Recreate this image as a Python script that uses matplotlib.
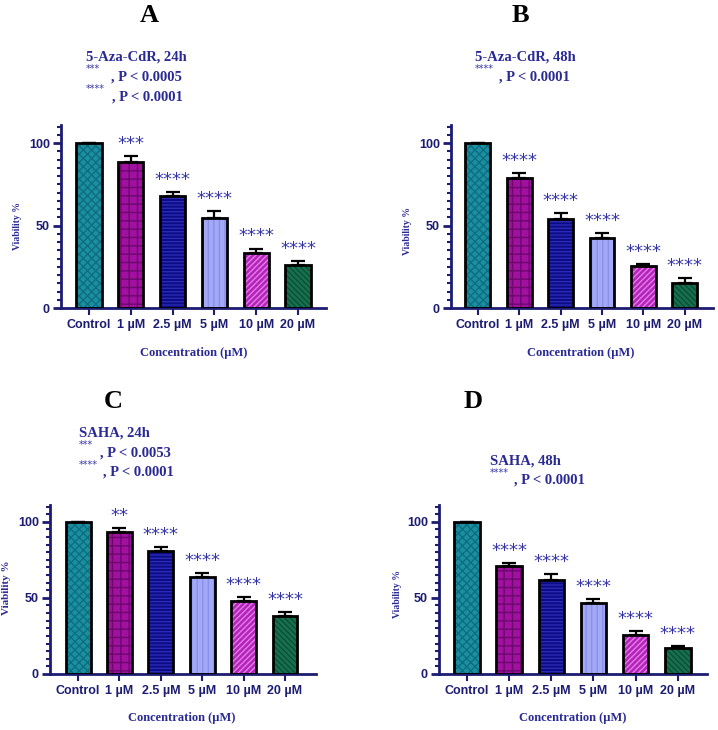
import numpy as np
import matplotlib
matplotlib.use("Agg")
import matplotlib.pyplot as plt
from matplotlib.ticker import MultipleLocator

plt.rcParams['hatch.linewidth'] = 1.0

W, H = 718, 730

# ---- data ----
categories = ['Control', '1 µM', '2.5 µM', '5 µM', '10 µM', '20 µM']

aza24 = [100, 88.5, 68.1, 54.7, 33.3, 25.9]
aza24_err = [0, 3.4, 2.0, 4.0, 2.7, 2.4]
aza24_stars = ['', '***', '****', '****', '****', '****']

aza48 = [100, 79.1, 53.9, 42.7, 25.2, 15.1]
aza48_err = [0, 2.8, 3.8, 2.8, 1.4, 2.8]
aza48_stars = ['', '****', '****', '****', '****', '****']

saha24 = [100, 93.4, 81.0, 63.9, 47.9, 38.3]
saha24_err = [0, 2.2, 2.2, 2.6, 2.9, 2.4]
saha24_stars = ['', '**', '****', '****', '****', '****']

saha48 = [100, 70.8, 61.9, 46.8, 25.9, 16.8]
saha48_err = [0, 2.2, 3.9, 2.7, 2.6, 1.5]
saha48_stars = ['', '****', '****', '****', '****', '****']

face_colors = ['#1b8fa2', '#a1109f', '#0c0c86', '#a3a9f7', '#b424ba', '#17704f']
hatch_colors = ['#0e6e80', '#6c0a6c', '#2b2bb5', '#8890ea', '#e27ce6', '#0b4f37']
hatches = ['xxxx', '++', '-----', '|||', '//////', '\\\\\\\\\\\\']

navy = '#1c1c72'
txt_blue = '#2a2a95'
star_blue = '#3636a8'


def px(x, y):
    return x / W, 1 - y / H


fig = plt.figure(figsize=(W / 100, H / 100), dpi=100)


def panel(rect, vals, errs, stars, xlim):
    ax = fig.add_axes(rect)
    x = np.arange(len(categories))
    ax.bar(x, vals, 0.6, color=face_colors, edgecolor=hatch_colors,
           hatch=hatches, linewidth=0, zorder=2)
    ax.bar(x, vals, 0.6, fill=False, edgecolor='black', linewidth=2, zorder=3)
    ax.errorbar(x, vals, yerr=[np.zeros(len(vals)), errs], fmt='none',
                ecolor='black', elinewidth=1.6, capsize=5, capthick=1.6, zorder=1)
    for xi, v, e, s in zip(x, vals, errs, stars):
        if s:
            ax.text(xi, v + e + 2, s, ha='center', va='bottom', fontsize=13,
                    color=star_blue)
    ax.set_xlim(*xlim)
    ax.set_ylim(0, 111)
    for side in ['top', 'right']:
        ax.spines[side].set_visible(False)
    for side in ['left', 'bottom']:
        ax.spines[side].set_color(navy)
        ax.spines[side].set_linewidth(2)
    ax.set_xticks(x)
    ax.set_xticklabels(categories)
    ax.set_yticks([0, 50, 100])
    ax.yaxis.set_minor_locator(MultipleLocator(5))
    ax.tick_params(axis='y', which='major', length=6, width=2, color=navy,
                   labelcolor=navy, labelsize=9, pad=2)
    ax.tick_params(axis='y', which='minor', length=3, width=1.5, color=navy)
    ax.tick_params(axis='x', length=5, width=1.5, color=navy, labelcolor=navy,
                   labelsize=9, pad=3)
    for lab in ax.get_xticklabels() + ax.get_yticklabels():
        lab.set_fontweight('bold')
        lab.set_fontfamily('Liberation Sans')
    return ax


serif = 'Liberation Serif'


def label_text(x, y, s, size, color=txt_blue, **kw):
    fig.text(*px(x, y), s, fontsize=size, color=color, fontweight='bold',
             family=serif, **kw)


def star_text(x, y, s):
    fig.text(*px(x, y), s, fontsize=7, color=star_blue, va='center', ha='left')


# Panel A
panel([61 / W, 1 - 308 / H, 265 / W, 183 / H], aza24, aza24_err, aza24_stars,
      (-0.67, 5.67))
label_text(149, 16, 'A', 19, color='black', ha='center', va='center')
label_text(86, 57, '5-Aza-CdR, 24h', 10.5, va='center')
star_text(86, 69, '***')
label_text(111, 77, ', P < 0.0005', 10.5, va='center')
star_text(86, 89, '****')
label_text(112, 97, ', P < 0.0001', 10.5, va='center')
label_text(18, 226, 'Viability %', 7, rotation=90, ha='center', va='center')
label_text(194, 353, 'Concentration (µM)', 9, ha='center', va='center')

# Panel B
panel([451 / W, 1 - 308 / H, 262 / W, 183 / H], aza48, aza48_err, aza48_stars,
      (-0.65, 5.68))
label_text(520, 16, 'B', 19, color='black', ha='center', va='center')
label_text(475, 57, '5-Aza-CdR, 48h', 10.5, va='center')
star_text(475, 69, '****')
label_text(499, 77, ', P < 0.0001', 10.5, va='center')
label_text(408, 231, 'Viability %', 7, rotation=90, ha='center', va='center')
label_text(581, 353, 'Concentration (µM)', 9, ha='center', va='center')

# Panel C
panel([50 / W, 1 - 674 / H, 266 / W, 169 / H], saha24, saha24_err, saha24_stars,
      (-0.68, 5.75))
label_text(113, 401, 'C', 19, color='black', ha='center', va='center')
label_text(79, 433, 'SAHA, 24h', 10.5, va='center')
star_text(79, 445, '***')
label_text(100, 453, ', P < 0.0053', 10.5, va='center')
star_text(79, 465, '****')
label_text(103, 472, ', P < 0.0001', 10.5, va='center')
label_text(7, 588, 'Viability %', 8, rotation=90, ha='center', va='center')
label_text(182, 718, 'Concentration (µM)', 9, ha='center', va='center')

# Panel D
panel([439 / W, 1 - 674 / H, 268 / W, 169 / H], saha48, saha48_err, saha48_stars,
      (-0.66, 5.69))
label_text(473, 401, 'D', 19, color='black', ha='center', va='center')
label_text(490, 461, 'SAHA, 48h', 10.5, va='center')
star_text(490, 473, '****')
label_text(514, 480, ', P < 0.0001', 10.5, va='center')
label_text(398, 594, 'Viability %', 7, rotation=90, ha='center', va='center')
label_text(573, 718, 'Concentration (µM)', 9, ha='center', va='center')

fig.savefig('out.png', dpi=100)
